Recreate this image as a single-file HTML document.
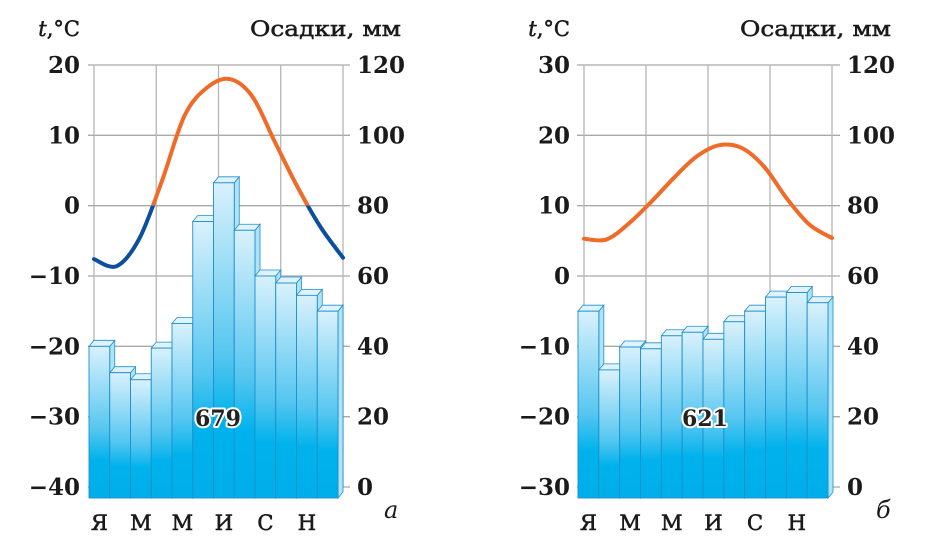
<!DOCTYPE html>
<html><head><meta charset="utf-8">
<style>
html,body{margin:0;padding:0;background:#fff;}
svg{display:block;}
text{font-family:"DejaVu Serif","Liberation Serif",serif;}
</style></head>
<body>
<svg id="chart" width="926" height="549" viewBox="0 0 926 549" xmlns="http://www.w3.org/2000/svg">
<defs>
<linearGradient id="barGrad" x1="0" y1="0" x2="0" y2="1">
<stop offset="0" stop-color="#d9f1fc"/>
<stop offset="0.55" stop-color="#55c6f0"/>
<stop offset="0.75" stop-color="#00b2ec"/>
<stop offset="1" stop-color="#00aeea"/>
</linearGradient>
</defs>
</svg>
<script>
// ---- Data ----
const months = ["Я","Ф","М","А","М","И","И","А","С","О","Н","Д"];
const precipA = [40, 32.5, 30.5, 39.5, 46.5, 75.5, 86.5, 73, 60, 58, 54.5, 50];
const tempA = [-7.6, -8.6, -4.7, 3.5, 12.8, 16.8, 18, 15.5, 9, 2.6, -3, -7.4];
const totalA = ["679"];
const tempTicksA = [20, 10, 0, -10, -20, -30, -40];
const precipB = [50, 33.3, 39.8, 39.3, 43, 44, 42, 47, 50, 54, 55.3, 52.4];
const tempB = [5.3, 5.2, 7.5, 10.6, 14, 17, 18.6, 18.2, 15.5, 11, 7.3, 5.4];
const totalB = ["621"];
const tempTicksB = [30, 20, 10, 0, -10, -20, -30];
const precipTicks = [120, 100, 80, 60, 40, 20, 0];

const NS = "http://www.w3.org/2000/svg";
const svg = document.getElementById("chart");
function mk(tag, attrs, parent) {
  const e = document.createElementNS(NS, tag);
  for (const k in attrs) e.setAttribute(k, attrs[k]);
  (parent || svg).appendChild(e);
  return e;
}
function smoothPath(pts) {
  let d = "M" + pts[0][0] + "," + pts[0][1];
  for (let i = 0; i < pts.length - 1; i++) {
    const p0 = pts[Math.max(0, i - 1)], p1 = pts[i], p2 = pts[i + 1], p3 = pts[Math.min(pts.length - 1, i + 2)];
    const c1x = p1[0] + (p2[0] - p0[0]) / 6, c1y = p1[1] + (p2[1] - p0[1]) / 6;
    const c2x = p2[0] - (p3[0] - p1[0]) / 6, c2y = p2[1] - (p3[1] - p1[1]) / 6;
    d += " C" + c1x + "," + c1y + " " + c2x + "," + c2y + " " + p2[0] + "," + p2[1];
  }
  return d;
}

function drawChart(cfg) {
  const g = mk("g", {});
  
  
  const yTop = 65, yBot = 487;
  const pmax = 120;
  const yP = v => yBot - v / pmax * (yBot - yTop);
  const tMax = cfg.tTicks[0], tMin = cfg.tTicks[cfg.tTicks.length - 1];
  const yT = v => yTop + (tMax - v) / (tMax - tMin) * (yBot - yTop);
  const gx0 = cfg.gx0, gx1 = cfg.gx1;
  const xT = i => gx0 + i * (gx1 - gx0) / 11;

  const grid = mk("g", {}, g);
  
  
  cfg.tTicks.forEach(t => {
    const l = mk("line", {x1: cfg.tickL, x2: cfg.tickR, y1: yT(t), y2: yT(t), stroke: "#a8a8a8", "stroke-width": 1.3}, grid);
    
    
  });
  for (let k = 0; k < 5; k++) {
    const x = gx0 + k * (gx1 - gx0) / 4;
    const l = mk("line", {x1: x, x2: x, y1: yTop, y2: yBot, stroke: "#b5b5b5", "stroke-width": 1.3}, grid);
    
    
  }

  const bx0 = cfg.bx0, bw = (cfg.bx1 - cfg.bx0) / 12, dx = 5, dy = 6, bBottom = 498;
  const bars = mk("g", {}, g);
  
  
  cfg.precip.forEach((v, i) => {
    const x = bx0 + i * bw, y = yP(v);
    const side = mk("polygon", {points: `${x+bw},${y} ${x+bw+dx},${y-dy} ${x+bw+dx},${bBottom-dy} ${x+bw},${bBottom}`, fill: "#aee3f8", stroke: "#1d8fcf", "stroke-width": 0.8}, bars);
    
    
    const top = mk("polygon", {points: `${x},${y} ${x+dx},${y-dy} ${x+bw+dx},${y-dy} ${x+bw},${y}`, fill: "#dff3fc", stroke: "#1d8fcf", "stroke-width": 0.8}, bars);
    
    
    const r = mk("rect", {x: x, y: y, width: bw, height: bBottom - y, fill: "url(#barGrad)", stroke: "#1d8fcf", "stroke-width": 0.9}, bars);
    
    
  });

  const tl = mk("text", {x: cfg.totalX, y: 426, "font-size": 22, "font-weight": "bold", "text-anchor": "middle", fill: "#222", stroke: "#fff", "stroke-width": 4, "paint-order": "stroke", "stroke-linejoin": "round"}, g);
  tl.textContent = cfg.total[0];
  
  

  const pts = cfg.temp.map((t, i) => [xT(i), yT(t)]);
  const d = smoothPath(pts);
  const cidA = cfg.name + "-above", cidB = cfg.name + "-below";
  const defs = mk("defs", {}, g);
  const c1 = mk("clipPath", {id: cidA}, defs);
  mk("rect", {x: 0, y: 0, width: 926, height: yT(0)}, c1);
  const c2 = mk("clipPath", {id: cidB}, defs);
  mk("rect", {x: 0, y: yT(0), width: 926, height: 549}, c2);
  const la = mk("path", {d: d, fill: "none", stroke: "#f06a28", "stroke-width": 4, "stroke-linecap": "round", "clip-path": `url(#${cidA})`}, g);
  
  
  const lb = mk("path", {d: d, fill: "none", stroke: "#0c4f9c", "stroke-width": 4, "stroke-linecap": "round", "clip-path": `url(#${cidB})`}, g);
  
  

  cfg.tTicks.forEach(t => {
    const tx = mk("text", {x: cfg.leftLabelX, y: yT(t) + 8, "font-size": 23, "font-weight": "bold", "text-anchor": "end", fill: "#1a1a1a"}, g);
    tx.textContent = t < 0 ? "\u2212" + Math.abs(t) : String(t);
    
    
  });
  precipTicks.forEach(p => {
    const tx = mk("text", {x: cfg.rightLabelX, y: yP(p) + 8, "font-size": 23, "font-weight": "bold", "text-anchor": "start", fill: "#1a1a1a"}, g);
    tx.textContent = String(p);
    
    
  });
  months.forEach((m, i) => {
    if (i % 2 !== 0) return;
    const tx = mk("text", {x: bx0 + (i + 0.5) * bw, y: 530, "font-size": 21, "text-anchor": "middle", fill: "#1a1a1a", stroke: "#1a1a1a", "stroke-width": 0.6}, g);
    tx.textContent = m;
    
    
  });
  const t1 = mk("text", {x: cfg.leftLabelX, y: 36, "font-size": 21, "text-anchor": "end", fill: "#1a1a1a", stroke: "#1a1a1a", "stroke-width": 0.5}, g);
  t1.innerHTML = '<tspan font-style="italic">t</tspan>,°C';
  
  
  const t2 = mk("text", {x: cfg.precipTitleX - 151, y: 36, "font-size": 21, "text-anchor": "start", textLength: 151, lengthAdjust: "spacingAndGlyphs", fill: "#1a1a1a", stroke: "#1a1a1a", "stroke-width": 0.5}, g);
  t2.textContent = "Осадки, мм";
  
  
  const lt = mk("text", {x: cfg.letterX, y: 518, "font-size": 24, "font-style": "italic", fill: "#1a1a1a"}, g);
  lt.textContent = cfg.letter;
  
  
}

drawChart({name: "chart-a", precip: precipA, temp: tempA, total: totalA, tTicks: tempTicksA,
  gx0: 94, gx1: 343, tickL: 88, tickR: 350, bx0: 89, bx1: 338, totalX: 218,
  leftLabelX: 80, rightLabelX: 357, precipTitleX: 401, letter: "а", letterX: 384});
drawChart({name: "chart-b", precip: precipB, temp: tempB, total: totalB, tTicks: tempTicksB,
  gx0: 584, gx1: 832, tickL: 577, tickR: 840, bx0: 578, bx1: 828, totalX: 705,
  leftLabelX: 570, rightLabelX: 847, precipTitleX: 891, letter: "б", letterX: 876});
</script>
</body></html>
